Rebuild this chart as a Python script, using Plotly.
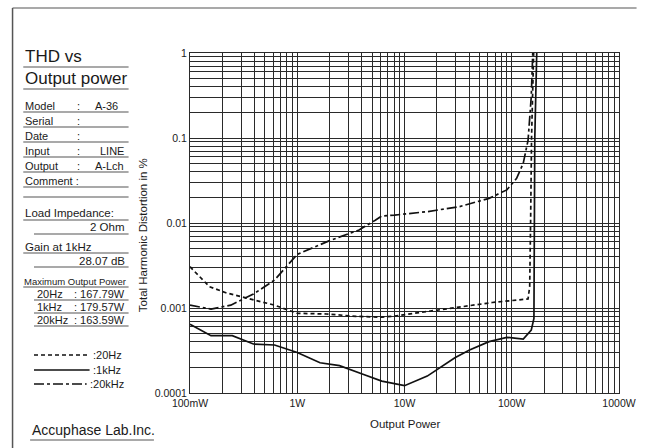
import plotly.graph_objects as go

# ---------------- data ----------------
power_20hz = [0.1, 0.152, 0.216, 0.404, 0.614, 1.0, 1.87, 3.52, 6.14, 8.1, 12.3, 32.7, 65.8, 141.9, 147, 150, 153, 160]
thd_20hz = [0.00306, 0.00178, 0.00151, 0.00124, 0.00108, 0.000866, 0.00085, 0.000798, 0.00078, 0.000805,
            0.000866, 0.00104, 0.00116, 0.00128, 0.00178, 0.011, 0.1, 1.0]

power_1khz = [0.1, 0.157, 0.248, 0.39, 0.614, 1.0, 1.63, 2.48, 4.04, 6.14, 10, 16.3, 29.5, 40.4, 61.4, 90,
              128, 152, 161, 163, 164, 171]
thd_1khz = [0.000643, 0.000472, 0.000472, 0.000377, 0.000367, 0.0003, 0.000227, 0.00021, 0.000167, 0.000138,
            0.000122, 0.000158, 0.00026, 0.00032, 0.000402, 0.000452, 0.000431, 0.00055, 0.000755, 0.01, 0.1, 1.0]

power_20khz = [0.1, 0.157, 0.24, 0.39, 0.614, 1.0, 2.0, 3.77, 5.34, 6.14, 8.1, 12.3, 16.3, 32.7, 61.4, 90,
               111, 128, 142, 152, 157]
thd_20khz = [0.00108, 0.00097, 0.00108, 0.00146, 0.00213, 0.00428, 0.0062, 0.00828, 0.0108, 0.0121, 0.0124,
             0.013, 0.0136, 0.0156, 0.0195, 0.0245, 0.0335, 0.0504, 0.0946, 0.306, 1.0]

x_tickvals = [0.1, 1, 10, 100, 1000]
x_ticktext = ["100mW", "1W", "10W", "100W", "1000W"]
y_tickvals = [0.0001, 0.001, 0.01, 0.1, 1]
y_ticktext = ["0.0001", "0.001", "0.01", "0.1", "1"]

info_labels = ["Model", "Serial", "Date", "Input", "Output"]
info_values = ["A-36", "", "", "LINE", "A-Lch"]
max_power_freqs = ["20Hz", "1kHz", "20kHz"]
max_power_values = [": 167.79W", ": 179.57W", ": 163.59W"]
legend_labels = [":20Hz", ":1kHz", ":20kHz"]

# ---------------- layout helpers ----------------
W, H = 648, 448
L, R, T, B = 190, 630, 53, 393
FONT = "Liberation Sans, Arial, Helvetica, sans-serif"
TXT = "#1a1a1a"
ULC = "#8c8c8c"


def X(px):
    return (px - L) / (R - L)


def Y(py):
    return (B - py) / (B - T)


minor_x = [m * 10 ** e for e in range(-1, 3) for m in range(2, 10)]
minor_y = [m * 10 ** e for e in range(-4, 0) for m in range(2, 10)]

fig = go.Figure()
styles = [
    (power_20hz, thd_20hz, "4px,3px", "20Hz"),
    (power_1khz, thd_1khz, "solid", "1kHz"),
    (power_20khz, thd_20khz, "10px,3px,3px,3px", "20kHz"),
]
for xs, ys, dash, name in styles:
    fig.add_trace(go.Scatter(x=xs, y=ys, mode="lines", name=name,
                             line=dict(color="#111111", width=1.7, dash=dash)))

annotations = []
shapes = []


def text(px, py, s, size=11, anchor="left"):
    annotations.append(dict(x=X(px), y=Y(py), xref="paper", yref="paper", text=s, showarrow=False,
                            xanchor=anchor, yanchor="middle", font=dict(family=FONT, size=size, color=TXT)))


def hline(x0, x1, py, color=ULC, width=1.5, dash="solid"):
    shapes.append(dict(type="line", xref="paper", yref="paper", x0=X(x0), x1=X(x1), y0=Y(py), y1=Y(py),
                       line=dict(color=color, width=width, dash=dash)))


# outer frame (top and left)
shapes.append(dict(type="line", xref="paper", yref="paper", x0=X(8), x1=X(648), y0=Y(8), y1=Y(8),
                   line=dict(color=ULC, width=1.5)))
shapes.append(dict(type="line", xref="paper", yref="paper", x0=X(8), x1=X(8), y0=Y(8), y1=Y(448),
                   line=dict(color="#555555", width=1.5)))

# title
text(19, 57, "THD vs", 17)
hline(19, 127, 67)
text(19, 79, "Output power", 17)
hline(19, 127, 89)

# info rows
row_y = [106, 121, 136, 151, 166]
val_x = [90, 90, 90, 96, 90]
for lab, val, yy, vx in zip(info_labels, info_values, row_y, val_x):
    text(19, yy, lab, 11)
    text(72, yy, ":", 11)
    if val:
        text(vx, yy, val, 11)
    hline(19, 127, yy + 6)
text(19, 181, "Comment :", 11)
hline(19, 127, 187)
hline(19, 127, 197)

text(19, 213, "Load Impedance:", 11.5)
hline(19, 127, 220)
text(125, 227, "2 Ohm", 11.5, anchor="right")
hline(30, 127, 234)

text(19, 247, "Gain at 1kHz", 11.5)
hline(19, 127, 253)
text(125, 261, "28.07 dB", 11.5, anchor="right")
hline(30, 127, 267)

text(18, 281, "Maximum Output Power", 9.5)
hline(19, 127, 287)
mp_y = [294, 307, 320]
for f, v, yy in zip(max_power_freqs, max_power_values, mp_y):
    text(31, yy, f, 11)
    text(125, yy, v, 11, anchor="right")
    hline(30, 127, yy + 6)

# legend in left panel
leg_y = [355, 370, 384]
leg_dash = ["4px,3px", "solid", "10px,3px,3px,3px"]
leg_end = [87, 87, 84]
for lab, yy, d, xe in zip(legend_labels, leg_y, leg_dash, leg_end):
    hline(30, xe, yy, color="#111111", width=1.3, dash=d)
    text(xe + 1, yy, lab, 11)

text(26, 430, "Accuphase Lab.Inc.", 14)
hline(26, 153, 440, width=1.5)

# axis titles
annotations.append(dict(x=X(142), y=Y(235), xref="paper", yref="paper", text="Total Harmonic Distortion in %",
                        showarrow=False, textangle=-90, xanchor="center", yanchor="middle",
                        font=dict(family=FONT, size=11.5, color=TXT)))
text(410, 424, "Output Power", 11.5, anchor="center")

grid = "#2a2a2a"
fig.update_layout(
    width=W, height=H, autosize=False,
    margin=dict(l=L, r=W - R, t=T, b=H - B, pad=0),
    paper_bgcolor="white", plot_bgcolor="white",
    showlegend=False,
    annotations=annotations, shapes=shapes,
    xaxis=dict(type="log", range=[-1, 3], tickvals=x_tickvals, ticktext=x_ticktext,
               showgrid=True, gridcolor=grid, gridwidth=1, zeroline=False,
               showline=True, mirror=True, linecolor=grid, linewidth=1, ticks="",
               tickfont=dict(family=FONT, size=10.5, color=TXT),
               minor=dict(tickvals=minor_x, showgrid=True, gridcolor=grid, gridwidth=1, ticks="")),
    yaxis=dict(type="log", range=[-4, 0], tickvals=y_tickvals, ticktext=y_ticktext,
               showgrid=True, gridcolor=grid, gridwidth=1, zeroline=False,
               showline=True, mirror=True, linecolor=grid, linewidth=1, ticks="",
               tickfont=dict(family=FONT, size=10.5, color=TXT),
               minor=dict(tickvals=minor_y, showgrid=True, gridcolor=grid, gridwidth=1, ticks="")),
)

fig.write_html("out.html", config={"displayModeBar": False},
               post_script="document.body.style.margin='0';document.body.style.overflow='hidden';")
